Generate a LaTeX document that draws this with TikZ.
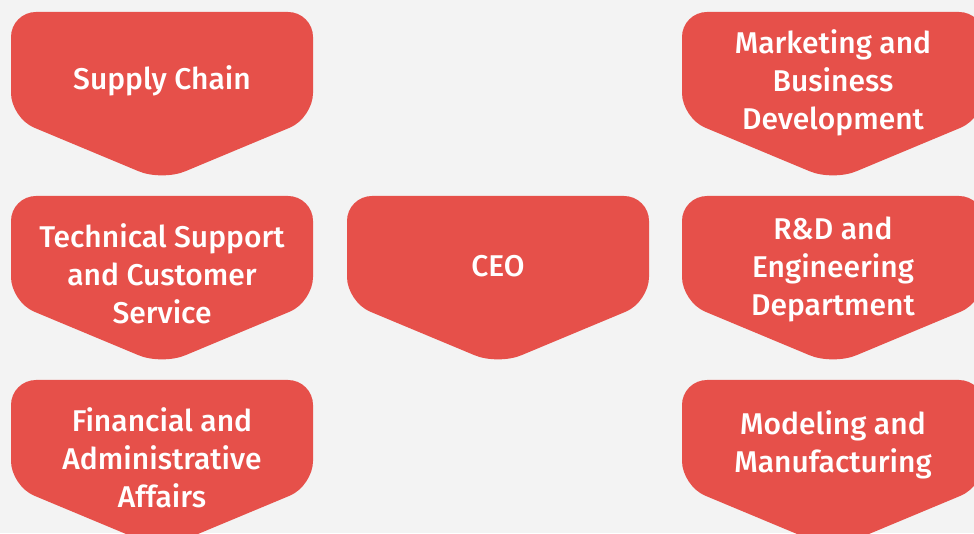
\documentclass[tikz,border=0pt]{standalone}
\usepackage{fontspec}
\setmainfont{Fira Sans}[UprightFont=* Medium]
\definecolor{boxred}{HTML}{E6504A}
\definecolor{bgcol}{HTML}{F3F3F3}
\tikzset{
  chevfill/.style={fill=boxred, rounded corners=25pt},
  boxtext/.style={text=white, align=center, font=\fontsize{30}{38}\selectfont, inner sep=0pt},
}
% #1 name, #2 left x, #3 top y (pixels from top), #4 text offset below top, #5 text
\newcommand\orgbox[5]{%
  \fill[chevfill] (#2pt,533pt-#3pt) -- ++(302pt,0) -- ++(0,-106pt) -- ++(-151pt,-63pt) -- ++(-151pt,63pt) -- cycle;
  \node[boxtext] (#1) at (#2pt+151pt,533pt-#3pt-#4pt) {#5};
}
\begin{document}
\begin{tikzpicture}
\useasboundingbox (0,0) rectangle (974pt,533pt);
\fill[bgcol] (0,0) rectangle (974pt,533pt);
\begin{scope}
\clip (0,0) rectangle (974pt,533pt);
\orgbox{supply}{11}{12}{69}{Supply Chain}
\orgbox{tech}{11}{196}{78}{Technical Support\\and Customer\\Service}
\orgbox{fin}{11}{380}{78}{Financial and\\Administrative\\Affairs}
\orgbox{ceo}{347}{196}{70}{CEO}
\orgbox{mkt}{682}{12}{71}{Marketing and\\Business\\Development}
\orgbox{rnd}{682}{196}{73}{R\&D and\\Engineering\\Department}
\orgbox{model}{682}{380}{65}{Modeling and\\Manufacturing}
\end{scope}
\end{tikzpicture}
\end{document}
